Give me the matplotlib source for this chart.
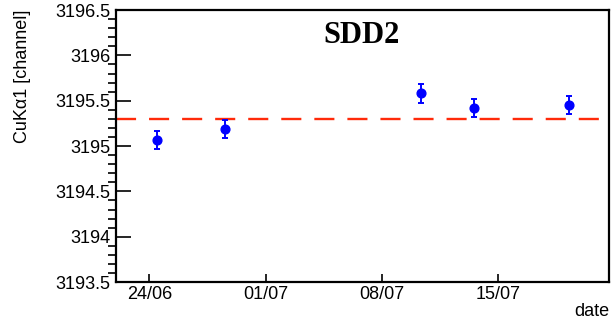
import matplotlib
matplotlib.use("Agg")
import matplotlib.pyplot as plt
import matplotlib.dates as mdates
import numpy as np
import pandas as pd

# measurement dates and fitted CuKa1 peak position
dates = pd.to_datetime(["2022-06-24 11:30", "2022-06-28 13:40", "2022-07-10 08:00",
                        "2022-07-13 13:00", "2022-07-19 06:30"])
peak = [3195.07, 3195.19, 3195.58, 3195.42, 3195.45]
peak_err = [0.10, 0.10, 0.10, 0.10, 0.10]
mean_peak = 3195.30

tick_dates = pd.to_datetime(["2022-06-24", "2022-07-01", "2022-07-08", "2022-07-15"])
x_range = pd.to_datetime(["2022-06-22 00:00", "2022-07-21 16:30"])

plt.rcParams['font.family'] = ['Liberation Sans', 'DejaVu Sans']

fig = plt.figure(figsize=(6.11, 3.25), dpi=100)
ax = fig.add_axes([0.190, 0.132, 0.8075, 0.837])

ax.axhline(mean_peak, color='#ff2a0a', lw=1.7, dashes=(8.5, 5.5), zorder=1)
ax.errorbar(dates, peak, yerr=peak_err, fmt='o', color='#0000ff', ms=6.3,
            elinewidth=1.4, capsize=2.4, capthick=1.4, zorder=3)

ax.set_xlim(x_range[0], x_range[1])
ax.set_ylim(3193.5, 3196.5)

ax.set_yticks(np.arange(3193.5, 3196.51, 0.5))
ax.set_yticklabels(['3193.5', '3194', '3194.5', '3195', '3195.5', '3196', '3196.5'])
ax.yaxis.set_minor_locator(matplotlib.ticker.MultipleLocator(0.1))
ax.set_xticks(tick_dates)
ax.xaxis.set_major_formatter(mdates.DateFormatter('%d/%m'))

ax.tick_params(axis='both', direction='in', labelsize=13, width=1.2)
ax.tick_params(axis='y', which='major', length=11, pad=4)
ax.tick_params(axis='y', which='minor', length=5.5, width=1.2)
ax.tick_params(axis='x', which='major', length=6, pad=3)
for s in ax.spines.values():
    s.set_linewidth(1.6)

ax.set_ylabel('CuK\u03b11 [channel]', fontsize=13, loc='top')
ax.yaxis.set_label_coords(-0.172, 1.0)
fig.text(0.9975, 0.015, 'date', ha='right', va='bottom', fontsize=13)
ax.text(0.497, 0.905, 'SDD2', transform=ax.transAxes, ha='center', va='center',
        fontsize=22, fontweight='bold', family=['Liberation Serif', 'DejaVu Serif'])

fig.savefig('out.png', dpi=100)
